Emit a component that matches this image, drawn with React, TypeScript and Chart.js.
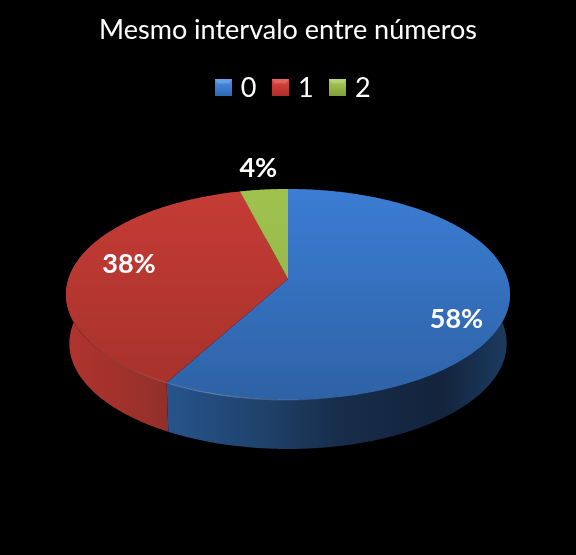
import React, { useEffect, useRef } from "react";
import { Chart, registerables } from "chart.js";

Chart.register(...registerables);

const titleText = "Mesmo intervalo entre números";
const categories = ["0", "1", "2"];
const shares = [58, 38, 4];
const swatchColors = [
  ["#4a90e6", "#2f68b2"],
  ["#e0453f", "#ab2f2b"],
  ["#a9cf55", "#7f9e3c"],
];
const topColors = [
  ["#3b7dd4", "#2e62a5"],
  ["#c53c35", "#a5312c"],
  ["#9fc24f", "#8dae45"],
];
const wallStops = [
  [[0, "#26548c"], [0.3, "#1f4068"], [0.5, "#172d4b"], [0.8, "#13243c"], [1, "#1c3c62"]],
  [[0, "#b0342f"], [0.5, "#97302a"], [1, "#7a2420"]],
  [[0, "#6f8a38"], [1, "#6f8a38"]],
];
const labelRadius = [0.77, 0.74, 1.28];
const labelShift = [20, -5, 0];

// Perspective of the tilted disc
const APEX_Y = 279;
const R = 219.6;
const PERSP = 0.147;
const VSCALE = 103.2;
const DEPTH = 49;
const BASE_SHRINK = 0.985;

function project(cx: number, a: number, f = 1) {
  const u = Math.cos(a) * f;
  const v = Math.sin(a) * f;
  const d = 1 - PERSP * v;
  return { x: cx + (R * u) / d, y: APEX_Y + (VSCALE * v) / d };
}

function rimPoints(cx: number, start: number, end: number) {
  const n = Math.max(2, Math.ceil(Math.abs(end - start) / 0.01));
  const pts: { x: number; y: number }[] = [];
  for (let i = 0; i <= n; i++) pts.push(project(cx, start + ((end - start) * i) / n));
  return pts;
}

const disc3d = {
  id: "disc3d",
  afterLayout(chart: any) {
    if (chart.legend) {
      chart.legend.left += 7;
      chart.legend.right += 7;
    }
  },
  beforeDatasetsDraw(chart: any) {
    const { ctx } = chart;
    const arcs = chart.getDatasetMeta(0).data;
    ctx.save();
    // side walls, back to front
    arcs.forEach((arc: any, i: number) => {
      const p = rimPoints(arc.x, arc.startAngle, arc.endAngle);
      const g = ctx.createLinearGradient(
        Math.min(...p.map((q) => q.x)),
        0,
        Math.max(...p.map((q) => q.x)),
        0
      );
      wallStops[i].forEach(([o, c]: any) => g.addColorStop(o, c));
      ctx.fillStyle = g;
      ctx.beginPath();
      p.forEach((q, k) => (k ? ctx.lineTo(q.x, q.y) : ctx.moveTo(q.x, q.y)));
      for (let k = p.length - 1; k >= 0; k--) {
        ctx.lineTo(arc.x + (p[k].x - arc.x) * BASE_SHRINK, p[k].y + DEPTH);
      }
      ctx.closePath();
      ctx.fill();
    });
    // top face
    arcs.forEach((arc: any, i: number) => {
      const p = rimPoints(arc.x, arc.startAngle, arc.endAngle);
      const g = ctx.createLinearGradient(0, 189, 0, 400);
      g.addColorStop(0, topColors[i][0]);
      g.addColorStop(1, topColors[i][1]);
      ctx.fillStyle = g;
      ctx.beginPath();
      ctx.moveTo(arc.x, APEX_Y);
      p.forEach((q) => ctx.lineTo(q.x, q.y));
      ctx.closePath();
      ctx.fill();
    });
    // thin rim highlight on the lit side
    const hl = ctx.createLinearGradient(80, 0, 340, 0);
    hl.addColorStop(0, "rgba(255,255,255,0)");
    hl.addColorStop(0.5, "rgba(255,255,255,0.32)");
    hl.addColorStop(1, "rgba(255,255,255,0)");
    ctx.strokeStyle = hl;
    ctx.lineWidth = 1;
    ctx.beginPath();
    rimPoints(arcs[0].x, Math.PI * 0.45, Math.PI).forEach((q, k) =>
      k ? ctx.lineTo(q.x, q.y) : ctx.moveTo(q.x, q.y)
    );
    ctx.stroke();
    ctx.restore();
    return false;
  },
  afterDraw(chart: any) {
    const { ctx } = chart;
    const arcs = chart.getDatasetMeta(0).data;
    ctx.save();
    ctx.font = "bold 27px Lato";
    ctx.fillStyle = "#ffffff";
    ctx.textAlign = "center";
    ctx.textBaseline = "middle";
    arcs.forEach((arc: any, i: number) => {
      const mid = (arc.startAngle + arc.endAngle) / 2;
      const q = project(arc.x, mid, labelRadius[i]);
      ctx.fillText(`${shares[i]}%`, q.x, q.y + labelShift[i]);
    });
    ctx.restore();
  },
};

function makeSwatch(colors: string[]) {
  const c = document.createElement("canvas");
  c.width = 17;
  c.height = 17;
  const x = c.getContext("2d")!;
  const g = x.createLinearGradient(0, 0, 0, 17);
  g.addColorStop(0, colors[0]);
  g.addColorStop(1, colors[1]);
  x.fillStyle = g;
  x.fillRect(0, 0, 17, 17);
  x.fillStyle = "rgba(255,255,255,0.18)";
  x.beginPath();
  x.moveTo(0, 0);
  x.lineTo(17, 0);
  x.lineTo(14, 4);
  x.lineTo(3, 4);
  x.closePath();
  x.fill();
  return c;
}

export default function App() {
  const ref = useRef<HTMLCanvasElement>(null);
  useEffect(() => {
    document.body.style.margin = "0";
    document.body.style.background = "#000";
    const swatches = swatchColors.map(makeSwatch);
    const chart = new Chart(ref.current!, {
      type: "pie",
      data: {
        labels: categories,
        datasets: [
          {
            data: shares,
            backgroundColor: topColors.map((c) => c[0]),
            borderWidth: 0,
          },
        ],
      },
      plugins: [disc3d],
      options: {
        responsive: false,
        animation: false,
        layout: { padding: { bottom: 12 } },
        plugins: {
          tooltip: { enabled: false },
          title: {
            display: true,
            text: titleText,
            color: "#ffffff",
            font: { family: "Lato", size: 27, weight: "normal" },
            padding: { top: 14, bottom: 8 },
          },
          legend: {
            display: true,
            position: "top",
            labels: {
              color: "#ffffff",
              font: { family: "Lato", size: 27 },
              usePointStyle: true,
              pointStyleWidth: 8,
              boxHeight: 17,
              padding: 20,
              generateLabels: () =>
                categories.map((t, i) => ({
                  text: t,
                  fillStyle: swatchColors[i][0],
                  strokeStyle: swatchColors[i][0],
                  lineWidth: 0,
                  hidden: false,
                  index: i,
                  pointStyle: swatches[i],
                  fontColor: "#ffffff",
                })),
            },
          },
        },
      },
    } as any);
    return () => chart.destroy();
  }, []);
  return (
    <div style={{ width: 576, height: 555, background: "#000" }}>
      <canvas ref={ref} width={576} height={555} style={{ display: "block" }} />
    </div>
  );
}
